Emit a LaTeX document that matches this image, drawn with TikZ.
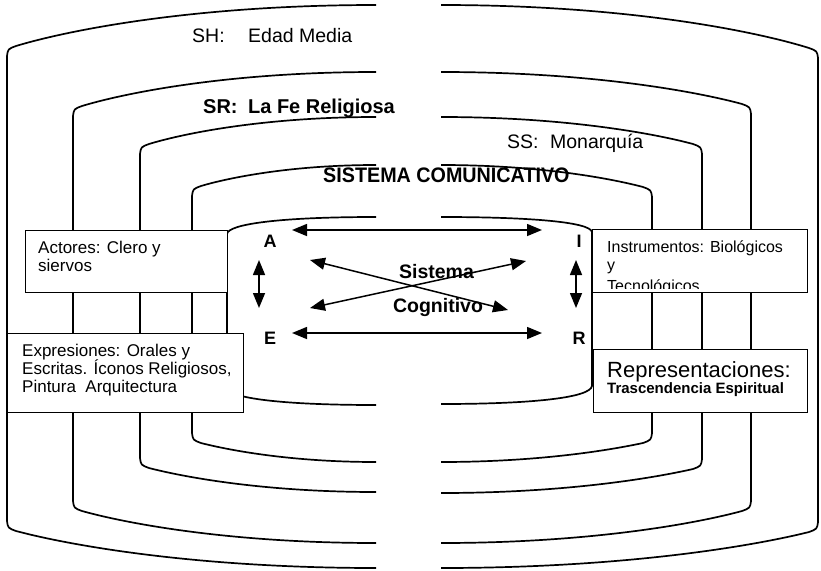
\documentclass[tikz,border=0pt]{standalone}
\usepackage{fontspec}
\usepackage{graphicx}
\setmainfont{Liberation Sans}
\usetikzlibrary{arrows.meta}

% Left half of a ring: #1 vertical x, #2 top end y, #3 top corner y,
% #4 bottom corner y, #5 bottom end y (ends at x = 376)
\newcommand{\lefthalf}[5]{%
  \pgfmathsetmacro{\ringdx}{376-#1}%
  \draw[ring] (376,#2) .. controls ({376-0.5*\ringdx},#2) and ({#1+0.16*\ringdx},{#2+0.55*(#3-#2)}) .. ({#1+9},{#3-6})
    .. controls ({#1+1},{#3-3}) .. (#1,{#3+4}) -- (#1,{#4-4})
    .. controls ({#1+1},{#4+3}) .. ({#1+9},{#4+6})
    .. controls ({#1+0.16*\ringdx},{#5-0.55*(#5-#4)}) and ({376-0.5*\ringdx},#5) .. (376,#5);%
}
% Right half of a ring: same arguments, ends at x = 441
\newcommand{\righthalf}[5]{%
  \pgfmathsetmacro{\ringdx}{#1-441}%
  \draw[ring] (441,#2) .. controls ({441+0.5*\ringdx},#2) and ({#1-0.16*\ringdx},{#2+0.55*(#3-#2)}) .. ({#1-9},{#3-6})
    .. controls ({#1-1},{#3-3}) .. (#1,{#3+4}) -- (#1,{#4-4})
    .. controls ({#1-1},{#4+3}) .. ({#1-9},{#4+6})
    .. controls ({#1-0.16*\ringdx},{#5-0.55*(#5-#4)}) and ({441+0.5*\ringdx},#5) .. (441,#5);%
}

\begin{document}
\begin{tikzpicture}[x=1pt,y=-1pt,
  ring/.style={line width=1.7pt, line join=round},
  box/.style={draw, line width=1.4pt, fill=white, anchor=north west, inner sep=0pt},
  boxtext/.style={anchor=base west, inner sep=0pt, font=\fontsize{17}{18}\selectfont},
  insttext/.style={anchor=base west, inner sep=0pt, font=\fontsize{16}{18}\selectfont},
  plaintitle/.style={anchor=base west, inner sep=0pt, font=\fontsize{19.5}{22}\selectfont},
  boldtitle/.style={anchor=base west, inner sep=0pt, font=\bfseries\fontsize{20}{22}\selectfont},
  letter/.style={inner sep=0pt, font=\bfseries\fontsize{18}{20}\selectfont},
  cogn/.style={anchor=base, inner sep=0pt, font=\bfseries\fontsize{19.5}{22}\selectfont},
  biarrow/.style={line width=1.5pt, {Triangle[length=15pt,width=12pt]}-{Triangle[length=15pt,width=12pt]}}
]
\fill[white] (0,0) rectangle (821,570);
\useasboundingbox (0,0) rectangle (821,570);

% nested system rings (each split in two halves)
\lefthalf{7}{5}{52}{525}{568}
\righthalf{818}{5}{54}{526}{568}
\lefthalf{73}{72}{112}{505}{543}
\righthalf{751}{72}{110}{505}{543}
\lefthalf{140}{117}{150}{462}{492}
\righthalf{702}{117}{150}{463}{493}
\lefthalf{192}{165}{192}{437}{462}
\righthalf{652}{165}{193}{437}{462}

% innermost ring (cognitive system)
\draw[ring] (376,217) .. controls (280,217) and (228,224) .. (227,234) -- (227,388)
  .. controls (229,398) and (280,405) .. (376,405);
\draw[ring] (441,217) .. controls (530,217) and (590,222) .. (592,232) -- (592,386)
  .. controls (590,398) and (530,404) .. (441,404);

% ring titles
\node[plaintitle] (sh) at (192,42) {SH:\hspace{23.5pt}Edad Media};
\node[boldtitle] (sr) at (203,113) {SR:\hspace{10.5pt}La Fe Religiosa};
\node[plaintitle] (ss) at (507,148) {SS:\hspace{11.5pt}Monarquía};
\node[anchor=base west, inner sep=0pt, font=\bfseries\fontsize{21}{22}\selectfont] (sc) at (323,182)
  {\scalebox{0.94}[1]{SISTEMA COMUNICATIVO}};

% component boxes
\node[box, minimum width=202pt, minimum height=62pt] (actores) at (25,230) {};
\node[box, minimum width=236pt, minimum height=79pt] (expres) at (7,333) {};
\node[box, minimum width=215pt, minimum height=63pt] (instr) at (592,229) {};
\node[box, minimum width=214pt, minimum height=63pt] (repres) at (593,349) {};

\node[boxtext] (act1) at ([shift={(13,23)}]actores.north west) {Actores: Clero y};
\node[boxtext] (act2) at ([shift={(13,41)}]actores.north west) {siervos};

\node[boxtext] (exp1) at ([shift={(15,23)}]expres.north west) {Expresiones: Orales y};
\node[boxtext] (exp2) at ([shift={(15,41)}]expres.north west) {Escritas. Íconos Religiosos,};
\node[boxtext] (exp3) at ([shift={(15,59)}]expres.north west) {Pintura\hspace{4.7pt} Arquitectura};

\begin{scope}
  \clip (instr.north west) rectangle ([shift={(0,-5)}]instr.south east);
  \node[insttext] (ins1) at ([shift={(15,23)}]instr.north west) {Instrumentos: Biológicos};
  \node[insttext] (ins2) at ([shift={(15,41)}]instr.north west) {y};
  \node[insttext] (ins3) at ([shift={(15,62)}]instr.north west) {Tecnológicos};
\end{scope}

\node[anchor=base west, inner sep=0pt, font=\fontsize{22}{24}\selectfont] (rep1)
  at ([shift={(14,28)}]repres.north west) {Representaciones:};
\node[anchor=base west, inner sep=0pt, font=\bfseries\fontsize{15}{18}\selectfont] (rep2)
  at ([shift={(14,44)}]repres.north west) {Trascendencia Espiritual};

% cognitive system: A, I, E, R
\node[letter] (A) at (270,241) {A};
\node[letter] (I) at (579,241) {I};
\node[letter] (E) at (270,338) {E};
\node[letter] (R) at (579,338) {R};

\node[cogn] (sis) at (436.5,278) {Sistema};
\node[cogn] (cog) at (438,312) {Cognitivo};

\draw[biarrow] ([shift={(22,-11)}]A.center) -- ([shift={(-37,-11)}]I.center);
\draw[biarrow] ([shift={(22,-5)}]E.center) -- ([shift={(-37,-5)}]R.center);
\draw[biarrow] ([shift={(-11,19)}]A.center) -- ([shift={(-11,-30)}]E.center);
\draw[biarrow] ([shift={(-3,19)}]I.center) -- ([shift={(-3,-30)}]R.center);
\draw[biarrow] ([shift={(40,19)}]A.center) -- ([shift={(-71,-28)}]R.center);
\draw[biarrow] ([shift={(40,-30)}]E.center) -- ([shift={(-53,20)}]I.center);
\end{tikzpicture}
\end{document}
